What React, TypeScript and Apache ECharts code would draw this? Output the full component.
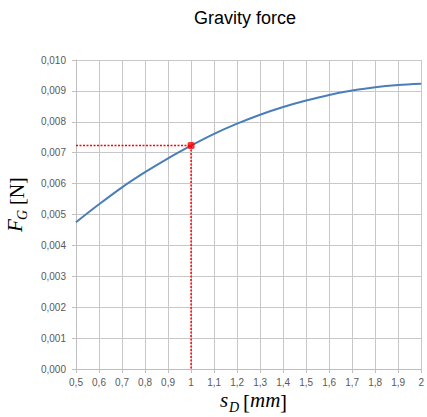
import React, { useEffect, useRef } from "react";
import * as echarts from "echarts";

const sValues = [0.5, 0.6, 0.7, 0.8, 0.9, 1.0, 1.1, 1.2, 1.3, 1.4, 1.5, 1.6, 1.7, 1.8, 1.9, 2.0];
const forceValues = [0.00475, 0.00533, 0.00588, 0.00637, 0.00682, 0.00723, 0.00761, 0.00794, 0.00823, 0.00848, 0.00869, 0.00887, 0.00901, 0.00912, 0.00919, 0.00923];
const markerPoint = [1.0, 0.00723];
const xRange = [0.5, 2.0];
const yRange = [0, 0.01];

const fmt = (v: number, d: number) => {
  let s = v.toFixed(d);
  if (d === 1 && s.endsWith(".0")) s = s.slice(0, -2);
  return s.replace(".", ",");
};

export default function App() {
  const ref = useRef<HTMLDivElement>(null);
  useEffect(() => {
    if (!ref.current) return;
    const chart = echarts.init(ref.current, null, { renderer: "svg" });
    const serif = "Liberation Serif";
    chart.setOption({
      animation: false,
      backgroundColor: "#ffffff",
      title: {
        text: "Gravity force",
        left: 240,
        top: 4,
        textAlign: "center",
        textStyle: { fontFamily: "Liberation Sans", fontSize: 18, fontWeight: "normal", color: "#000" },
      },
      grid: { left: 76, right: 1, top: 60, bottom: 48, containLabel: false },
      xAxis: {
        type: "value",
        min: xRange[0],
        max: xRange[1],
        interval: 0.1,
        axisLine: { show: true, lineStyle: { color: "#bfbfbf", width: 1 } },
        axisTick: { show: true, length: 4, lineStyle: { color: "#bfbfbf" } },
        axisLabel: {
          margin: 8,
          color: "#595959",
          fontFamily: "Liberation Sans",
          fontSize: 10,
          formatter: (v: number) => fmt(v, 1),
        },
        splitLine: { show: true, lineStyle: { color: "#c8c8c8", width: 1 } },
      },
      yAxis: {
        type: "value",
        min: yRange[0],
        max: yRange[1],
        interval: 0.001,
        axisLine: { show: true, lineStyle: { color: "#bfbfbf", width: 1 } },
        axisTick: { show: true, length: 4, lineStyle: { color: "#bfbfbf" } },
        axisLabel: {
          margin: 10,
          color: "#595959",
          fontFamily: "Liberation Sans",
          fontSize: 10,
          formatter: (v: number) => fmt(v, 3),
        },
        splitLine: { show: true, lineStyle: { color: "#c8c8c8", width: 1 } },
      },
      series: [
        {
          type: "line",
          data: sValues.map((s, i) => [s, forceValues[i]]),
          smooth: 0.3,
          showSymbol: false,
          lineStyle: { color: "#4a7ebb", width: 2 },
          z: 3,
        },
        {
          type: "line",
          data: [
            [xRange[0], markerPoint[1]],
            [markerPoint[0], markerPoint[1]],
            [markerPoint[0], yRange[0]],
          ],
          showSymbol: false,
          lineStyle: { color: "#ff0000", width: 1.5, type: [2, 1.5] },
          z: 4,
        },
        {
          type: "scatter",
          data: [markerPoint],
          symbol: "roundRect",
          symbolSize: 7,
          itemStyle: { color: "#ff0000" },
          z: 5,
        },
      ],
      graphic: [
        { type: "text", x: 220, y: 410, style: { text: "s", fontFamily: serif, fontStyle: "italic", fontSize: 21, fill: "#000", textVerticalAlign: "bottom" } },
        { type: "text", x: 229, y: 414, style: { text: "D", fontFamily: serif, fontStyle: "italic", fontSize: 14, fill: "#000", textVerticalAlign: "bottom" } },
        { type: "text", x: 243, y: 412, style: { text: "[", fontFamily: serif, fontSize: 21, fill: "#000", textVerticalAlign: "bottom" } },
        { type: "text", x: 250, y: 410, style: { text: "mm", fontFamily: serif, fontStyle: "italic", fontSize: 21, fill: "#000", textVerticalAlign: "bottom" } },
        { type: "text", x: 280, y: 412, style: { text: "]", fontFamily: serif, fontSize: 21, fill: "#000", textVerticalAlign: "bottom" } },
        {
          type: "group",
          x: 25,
          y: 232,
          rotation: Math.PI / 2,
          children: [
            { type: "text", x: 0, y: 0, style: { text: "F", fontFamily: serif, fontStyle: "italic", fontSize: 21, fill: "#000", textVerticalAlign: "bottom" } },
            { type: "text", x: 12, y: 4, style: { text: "G", fontFamily: serif, fontStyle: "italic", fontSize: 14, fill: "#000", textVerticalAlign: "bottom" } },
            { type: "text", x: 27, y: 2, style: { text: "[N]", fontFamily: serif, fontSize: 20, fill: "#000", textVerticalAlign: "bottom" } },
          ],
        },
      ],
    });
    return () => chart.dispose();
  }, []);
  return <div ref={ref} style={{ width: 427, height: 417, position: "absolute", left: 0, top: 0 }} />;
}
